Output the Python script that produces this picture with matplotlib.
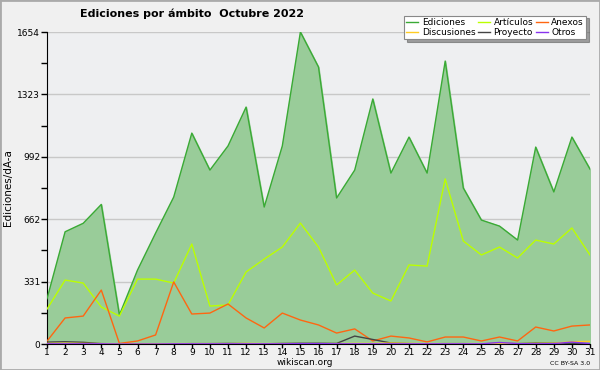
import matplotlib
matplotlib.use("Agg")
import matplotlib.pyplot as plt
from matplotlib.patches import Rectangle
from matplotlib.ticker import FixedLocator

# ---------------------------------------------------------------- data
dias = list(range(1, 32))
ediciones = [240, 595, 640, 740, 154, 392, 588, 779, 1118, 922, 1050, 1256, 726, 1050, 1654, 1468,
             774, 922, 1299, 906, 1097, 906, 1500, 827, 657, 625, 551, 1044, 806, 1097, 927]
articulos = [185, 339, 323, 196, 148, 344, 344, 323, 530, 201, 207, 382, 450, 514, 641, 514,
             313, 392, 270, 228, 419, 413, 875, 546, 472, 514, 456, 551, 530, 615, 472]
anexos = [15, 138, 148, 286, 3, 16, 48, 329, 159, 164, 212, 138, 85, 164, 127, 101,
          58, 80, 16, 42, 32, 11, 37, 37, 16, 37, 16, 90, 69, 95, 101]
discusiones = [3, 4, 3, 2, 1, 1, 1, 2, 2, 2, 2, 3, 2, 2, 2, 2,
               2, 3, 3, 5, 3, 2, 2, 2, 2, 3, 2, 3, 4, 12, 14]
proyecto = [10, 12, 9, 2, 1, 1, 1, 1, 2, 2, 3, 2, 1, 3, 4, 4,
            3, 42, 24, 5, 2, 1, 2, 2, 1, 3, 2, 5, 4, 4, 2]
otros = [1, 1, 1, 1, 0, 0, 0, 1, 1, 1, 1, 1, 1, 1, 2, 2,
         1, 1, 1, 1, 1, 1, 1, 1, 1, 8, 2, 1, 2, 10, 2]

y_ticks = [0, 331, 662, 992, 1323, 1654]

# ---------------------------------------------------------------- figure
fig = plt.figure(figsize=(6, 3.7), dpi=100, facecolor='#f0f0f0')
ax = fig.add_axes([47 / 600, 1 - 344 / 370, 543 / 600, 312 / 370])
ax.set_facecolor('#eeeff1')

ax.fill_between(dias, ediciones, color='#99cc99', zorder=2)
l_ed, = ax.plot(dias, ediciones, color='#3aaa35', lw=1, zorder=3)
l_ar, = ax.plot(dias, articulos, color='#bbff00', lw=1, zorder=3)
l_an, = ax.plot(dias, anexos, color='#ff6611', lw=1, zorder=3)
l_pr, = ax.plot(dias, proyecto, color='#444444', lw=1, zorder=3)
l_di, = ax.plot(dias, discusiones, color='#ffcc22', lw=1, zorder=3)
l_ot, = ax.plot(dias, otros, color='#8833ee', lw=1, zorder=3)

ax.set_xlim(1, 31)
ax.set_ylim(0, 1654)
ax.set_xticks(dias)
ax.set_yticks(y_ticks)
ax.yaxis.set_minor_locator(FixedLocator([165.5, 496.5, 827, 1157.5, 1488.5]))
ax.grid(axis='y', which='major', color='#c8c8c8', lw=1, zorder=2.5)
for s in ['top', 'right']:
    ax.spines[s].set_visible(False)
ax.tick_params(axis='y', which='major', labelsize=6.5, length=4, width=1, pad=1)
ax.tick_params(axis='x', which='major', labelsize=6.5, length=3, width=1, pad=0)
ax.tick_params(axis='y', which='minor', length=4, width=1)
ax.set_ylabel('Ediciones/dÃ-a', fontsize=7.5, labelpad=3)

fig.text(0.32, 0.962, 'Ediciones por ámbito  Octubre 2022', ha='center', va='center',
         fontsize=8, fontweight='bold')
fig.text(0.508, 0.021, 'wikiscan.org', ha='center', va='center', fontsize=6.5)
fig.text(0.983, 0.018, 'CC BY-SA 3.0', ha='right', va='center', fontsize=4.5)

leg = fig.legend([l_ed, l_di, l_ar, l_pr, l_an, l_ot],
                 ['Ediciones', 'Discusiones', 'Artículos', 'Proyecto', 'Anexos', 'Otros'],
                 ncol=3, loc='upper right', bbox_to_anchor=(0.985, 0.97), fontsize=6.5,
                 frameon=True, fancybox=False, shadow=True, handlelength=1.3,
                 handletextpad=0.4, columnspacing=0.3, labelspacing=0.05, borderpad=0.3)
leg.get_frame().set_edgecolor('#888888')
leg.get_frame().set_facecolor('white')
leg.get_frame().set_linewidth(0.8)

fig.patches.append(Rectangle((0, 0), 1, 1, transform=fig.transFigure, fill=False,
                             edgecolor='#aaaaaa', lw=2))

fig.savefig('out.png', dpi=100, facecolor=fig.get_facecolor())
